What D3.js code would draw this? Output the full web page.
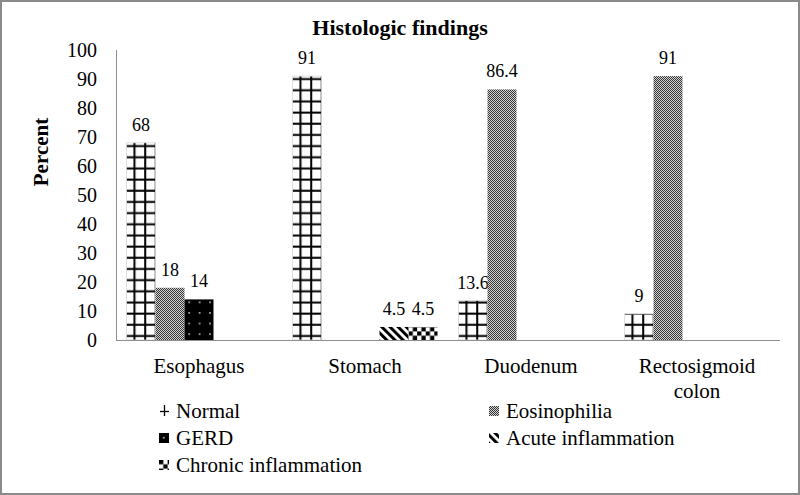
<!DOCTYPE html>
<html>
<head>
<meta charset="utf-8">
<script src="https://cdn.jsdelivr.net/npm/d3@7/dist/d3.min.js"></script>
<style>
  html, body { margin: 0; padding: 0; background: #fff; }
  svg { display: block; }
</style>
</head>
<body>
<svg id="chart" width="800" height="495" font-family="Liberation Serif"></svg>
<script>
// ---- data ----
const categories = ["Esophagus", "Stomach", "Duodenum", "Rectosigmoid colon"];
const seriesNames = ["Normal", "Eosinophilia", "GERD", "Acute inflammation", "Chronic inflammation"];
const normalValues = [68, 91, 13.6, 9];
const eosinophiliaValues = [18, 0, 86.4, 91];
const gerdValues = [14, 0, 0, 0];
const acuteValues = [0, 4.5, 0, 0];
const chronicValues = [0, 4.5, 0, 0];
const yTicks = [0, 10, 20, 30, 40, 50, 60, 70, 80, 90, 100];
const chartTitle = "Histologic findings";
const yTitle = "Percent";

const seriesValues = [normalValues, eosinophiliaValues, gerdValues, acuteValues, chronicValues];
const patternKinds = ["grid", "fine", "dots", "diag", "checker"];
const FONT = "Liberation Serif";

const svg = d3.select("#chart");
const defs = svg.append("defs");

const plot = { left: 116, right: 780, top: 50, bottom: 340 };
const x0 = d3.scaleBand().domain(categories).range([plot.left, plot.right]).padding(0);
const x1 = d3.scaleBand().domain(seriesNames).range([10.5, x0.bandwidth() - 10.5]).padding(0);
const y = d3.scaleLinear().domain([0, 100]).range([plot.bottom, plot.top]);

function makePattern(id, kind, ox, oy) {
  let p;
  if (kind === "grid") {
    const w = 10.7, h = 11.17;
    p = defs.append("pattern").attr("id", id).attr("patternUnits", "userSpaceOnUse")
      .attr("x", ox).attr("y", oy).attr("width", w).attr("height", h);
    p.append("rect").attr("width", w).attr("height", h).attr("fill", "#fff");
    p.append("rect").attr("x", 8 - 1).attr("y", 0).attr("width", 2).attr("height", h).attr("fill", "#000");
    p.append("rect").attr("x", 0).attr("y", 7.17 - 1).attr("width", w).attr("height", 2).attr("fill", "#000");
  } else if (kind === "fine") {
    p = defs.append("pattern").attr("id", id).attr("patternUnits", "userSpaceOnUse")
      .attr("x", 0).attr("y", 0).attr("width", 2).attr("height", 2);
    p.append("rect").attr("width", 2).attr("height", 2).attr("fill", "#d4d4d4");
    p.append("rect").attr("width", 1).attr("height", 1).attr("fill", "#333");
    p.append("rect").attr("x", 1).attr("y", 1).attr("width", 1).attr("height", 1).attr("fill", "#333");
  } else if (kind === "dots") {
    const w = 10.4, h = 10.6;
    p = defs.append("pattern").attr("id", id).attr("patternUnits", "userSpaceOnUse")
      .attr("x", ox).attr("y", oy).attr("width", w).attr("height", h);
    p.append("rect").attr("width", w).attr("height", h).attr("fill", "#000");
    p.append("rect").attr("x", 4).attr("y", 4).attr("width", 1.4).attr("height", 1.4).attr("fill", "#fff");
  } else if (kind === "diag") {
    p = defs.append("pattern").attr("id", id).attr("patternUnits", "userSpaceOnUse")
      .attr("x", ox).attr("y", oy).attr("width", 5.8).attr("height", 5.8)
      .attr("patternTransform", "rotate(-45)");
    p.append("rect").attr("width", 5.8).attr("height", 5.8).attr("fill", "#fff");
    p.append("rect").attr("width", 3).attr("height", 5.8).attr("fill", "#000");
  } else {
    const c = 4.3;
    p = defs.append("pattern").attr("id", id).attr("patternUnits", "userSpaceOnUse")
      .attr("x", ox).attr("y", oy).attr("width", 2 * c).attr("height", 2 * c);
    p.append("rect").attr("width", 2 * c).attr("height", 2 * c).attr("fill", "#fff");
    p.append("rect").attr("width", c).attr("height", c).attr("fill", "#000");
    p.append("rect").attr("x", c).attr("y", c).attr("width", c).attr("height", c).attr("fill", "#000");
  }
  return "url(#" + id + ")";
}

// border
svg.append("rect").attr("x", 1).attr("y", 1).attr("width", 798).attr("height", 493)
  .attr("fill", "#fff").attr("stroke", "#8a8a8a").attr("stroke-width", 2);

// title
svg.append("text").attr("x", 400).attr("y", 35).attr("text-anchor", "middle")
  .attr("font-family", FONT).attr("font-size", 22).attr("font-weight", "bold").text(chartTitle);

// y axis title
svg.append("text").attr("transform", "translate(48,152) rotate(-90)")
  .attr("text-anchor", "middle").attr("font-family", FONT)
  .attr("font-size", 21).attr("font-weight", "bold").text(yTitle);

// y axis
const yAxis = svg.append("g").attr("transform", `translate(${plot.left},0)`)
  .call(d3.axisLeft(y).tickValues(yTicks).tickSize(0).tickPadding(19).tickFormat(d3.format("d")));
yAxis.attr("font-family", FONT).attr("font-size", 20);
yAxis.select(".domain").remove();
yAxis.selectAll("text").attr("font-size", 20).attr("font-family", FONT).attr("fill", "#000");

// bars
const bars = svg.append("g");
seriesNames.forEach((s, si) => {
  seriesValues[si].forEach((v, ci) => {
    if (!v) return;
    const bx = x0(categories[ci]) + x1(s);
    const fill = makePattern(`pat-${si}-${ci}`, patternKinds[si], bx, plot.bottom);
    bars.append("rect")
      .attr("x", bx).attr("y", y(v))
      .attr("width", x1.bandwidth()).attr("height", y(0) - y(v))
      .attr("fill", fill)
      .attr("stroke", si === 0 ? "#d8d8d8" : "none").attr("stroke-width", si === 0 ? 0.8 : 0);
    bars.append("text")
      .attr("x", bx + x1.bandwidth() / 2).attr("y", y(v) - 12)
      .attr("text-anchor", "middle").attr("font-family", FONT).attr("font-size", 18).text(String(v));
  });
});

// axis lines
svg.append("line").attr("x1", plot.left + 0.5).attr("x2", plot.left + 0.5)
  .attr("y1", plot.top).attr("y2", plot.bottom).attr("stroke", "#8f8f8f").attr("stroke-width", 1);
svg.append("line").attr("x1", plot.left).attr("x2", plot.right)
  .attr("y1", plot.bottom + 0.5).attr("y2", plot.bottom + 0.5).attr("stroke", "#8f8f8f").attr("stroke-width", 1.2);

// category labels
const xAxis = svg.append("g");
categories.forEach(c => {
  const lines = c.length > 12 ? c.split(" ") : [c];
  const cx = x0(c) + x0.bandwidth() / 2;
  const t = xAxis.append("text").attr("x", cx).attr("y", 373)
    .attr("text-anchor", "middle").attr("font-family", FONT).attr("font-size", 21);
  lines.forEach((ln, i) => {
    t.append("tspan").attr("x", cx).attr("dy", i === 0 ? 0 : 25).text(ln);
  });
});

// legend
const legend = svg.append("g");
const colX = [159, 489];
const rowY = [418, 445, 472];
seriesNames.forEach((s, i) => {
  const cx = colX[i % 2], ry = rowY[Math.floor(i / 2)];
  const sx = cx, sy = ry - 12;
  if (patternKinds[i] === "grid") {
    legend.append("line").attr("x1", sx + 5.5).attr("x2", sx + 5.5).attr("y1", sy - 1).attr("y2", sy + 10)
      .attr("stroke", "#000").attr("stroke-width", 1.3);
    legend.append("line").attr("x1", sx + 1).attr("x2", sx + 10).attr("y1", sy + 5.5).attr("y2", sy + 5.5)
      .attr("stroke", "#000").attr("stroke-width", 1.3);
  } else {
    const fill = makePattern(`leg-${i}`, patternKinds[i], sx, sy);
    legend.append("rect").attr("x", sx).attr("y", sy).attr("width", 10).attr("height", 10).attr("fill", fill);
  }
  legend.append("text").attr("x", cx + 17).attr("y", ry)
    .attr("font-family", FONT).attr("font-size", 21).text(s);
});
</script>
</body>
</html>
